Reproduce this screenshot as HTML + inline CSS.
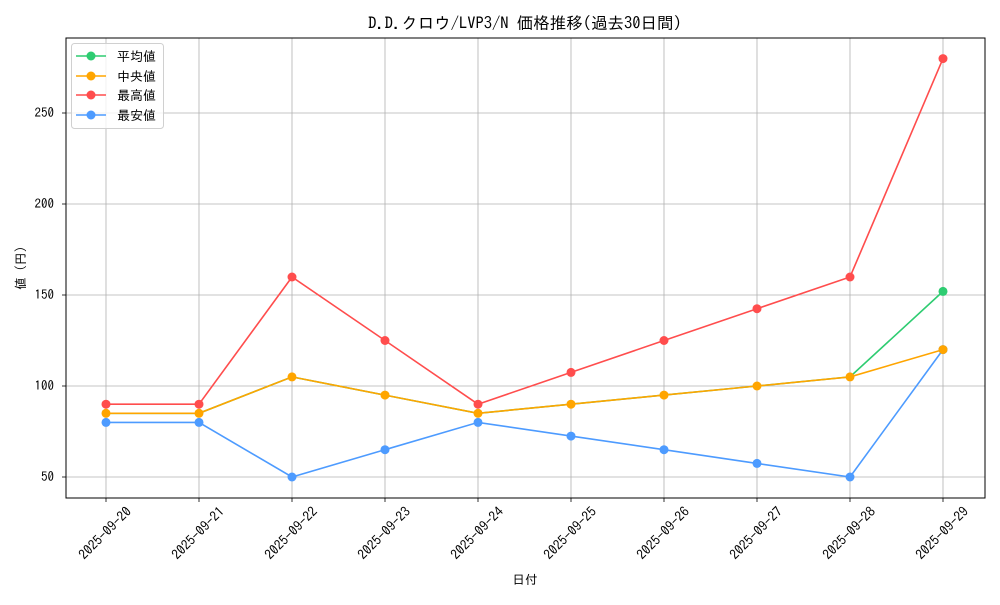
<!DOCTYPE html>
<html><head><meta charset="utf-8"><style>
body{margin:0;background:#fff}
text{font-family:"IPAGothic","Liberation Sans","Noto Sans CJK JP",sans-serif;fill:#000}
</style></head><body>
<svg width="1000" height="600" xmlns="http://www.w3.org/2000/svg">
<rect width="1000" height="600" fill="#fff"/>
<text x="525" y="29" font-size="16.5" text-anchor="middle">D.D.クロウ/LVP3/N 価格推移(過去30日間)</text>
<g stroke="#b0b0b0" stroke-width="0.8">
<line x1="106" y1="38" x2="106" y2="498"/><line x1="199" y1="38" x2="199" y2="498"/><line x1="292" y1="38" x2="292" y2="498"/><line x1="385" y1="38" x2="385" y2="498"/><line x1="478" y1="38" x2="478" y2="498"/><line x1="571" y1="38" x2="571" y2="498"/><line x1="664" y1="38" x2="664" y2="498"/><line x1="757" y1="38" x2="757" y2="498"/><line x1="850" y1="38" x2="850" y2="498"/><line x1="943" y1="38" x2="943" y2="498"/>
<line x1="66" y1="477" x2="985" y2="477"/><line x1="66" y1="386" x2="985" y2="386"/><line x1="66" y1="295" x2="985" y2="295"/><line x1="66" y1="204" x2="985" y2="204"/><line x1="66" y1="113" x2="985" y2="113"/>
</g>
<rect x="66" y="38" width="919" height="460" fill="none" stroke="#000" stroke-width="1"/>
<g stroke="#000" stroke-width="0.8">
<line x1="62" y1="477" x2="66" y2="477"/><line x1="62" y1="386" x2="66" y2="386"/><line x1="62" y1="295" x2="66" y2="295"/><line x1="62" y1="204" x2="66" y2="204"/><line x1="62" y1="113" x2="66" y2="113"/>
<line x1="106" y1="498" x2="106" y2="502"/><line x1="199" y1="498" x2="199" y2="502"/><line x1="292" y1="498" x2="292" y2="502"/><line x1="385" y1="498" x2="385" y2="502"/><line x1="478" y1="498" x2="478" y2="502"/><line x1="571" y1="498" x2="571" y2="502"/><line x1="664" y1="498" x2="664" y2="502"/><line x1="757" y1="498" x2="757" y2="502"/><line x1="850" y1="498" x2="850" y2="502"/><line x1="943" y1="498" x2="943" y2="502"/>
</g>
<g font-size="13" text-anchor="end">
<text x="54" y="481">50</text><text x="54" y="390">100</text><text x="54" y="299">150</text><text x="54" y="208">200</text><text x="54" y="117">250</text>
</g>
<g font-size="13.5" text-anchor="middle">
<text transform="translate(105,533) rotate(-45)" dy="0.35em">2025-09-20</text>
<text transform="translate(198,533) rotate(-45)" dy="0.35em">2025-09-21</text>
<text transform="translate(291,533) rotate(-45)" dy="0.35em">2025-09-22</text>
<text transform="translate(384,533) rotate(-45)" dy="0.35em">2025-09-23</text>
<text transform="translate(477,533) rotate(-45)" dy="0.35em">2025-09-24</text>
<text transform="translate(570,533) rotate(-45)" dy="0.35em">2025-09-25</text>
<text transform="translate(663,533) rotate(-45)" dy="0.35em">2025-09-26</text>
<text transform="translate(756,533) rotate(-45)" dy="0.35em">2025-09-27</text>
<text transform="translate(849,533) rotate(-45)" dy="0.35em">2025-09-28</text>
<text transform="translate(942,533) rotate(-45)" dy="0.35em">2025-09-29</text>
</g>
<text x="525" y="584" font-size="12.5" text-anchor="middle">日付</text>
<text transform="translate(25,268) rotate(-90)" font-size="12.5" text-anchor="middle">値 (円)</text>
<g fill="none" stroke-width="1.6">
<polyline stroke="#2ecc71" points="106,413.3 199,413.3 292,376.9 385,395.1 478,413.3 571,404.2 664,395.1 757,386 850,376.9 943,291.4"/>
<polyline stroke="#ffa500" points="106,413.3 199,413.3 292,376.9 385,395.1 478,413.3 571,404.2 664,395.1 757,386 850,376.9 943,349.6"/>
<polyline stroke="#ff4d4d" points="106,404.2 199,404.2 292,277 385,340.5 478,404.2 571,372.4 664,340.5 757,308.7 850,277 943,58.6"/>
<polyline stroke="#4d9bff" points="106,422.4 199,422.4 292,477 385,449.7 478,422.4 571,436.1 664,449.7 757,463.4 850,477 943,349.6"/>
</g>
<g fill="#2ecc71"><circle cx="943" cy="291.4" r="4.5"/></g>
<g fill="#ff4d4d"><circle cx="106" cy="404.2" r="4.5"/><circle cx="199" cy="404.2" r="4.5"/><circle cx="292" cy="277" r="4.5"/><circle cx="385" cy="340.5" r="4.5"/><circle cx="478" cy="404.2" r="4.5"/><circle cx="571" cy="372.4" r="4.5"/><circle cx="664" cy="340.5" r="4.5"/><circle cx="757" cy="308.7" r="4.5"/><circle cx="850" cy="277" r="4.5"/><circle cx="943" cy="58.6" r="4.5"/></g>
<g fill="#4d9bff"><circle cx="106" cy="422.4" r="4.5"/><circle cx="199" cy="422.4" r="4.5"/><circle cx="292" cy="477" r="4.5"/><circle cx="385" cy="449.7" r="4.5"/><circle cx="478" cy="422.4" r="4.5"/><circle cx="571" cy="436.1" r="4.5"/><circle cx="664" cy="449.7" r="4.5"/><circle cx="757" cy="463.4" r="4.5"/><circle cx="850" cy="477" r="4.5"/><circle cx="943" cy="349.6" r="4.5"/></g>
<g fill="#ffa500"><circle cx="106" cy="413.3" r="4.5"/><circle cx="199" cy="413.3" r="4.5"/><circle cx="292" cy="376.9" r="4.5"/><circle cx="385" cy="395.1" r="4.5"/><circle cx="478" cy="413.3" r="4.5"/><circle cx="571" cy="404.2" r="4.5"/><circle cx="664" cy="395.1" r="4.5"/><circle cx="757" cy="386" r="4.5"/><circle cx="850" cy="376.9" r="4.5"/><circle cx="943" cy="349.6" r="4.5"/></g>
<rect x="71.5" y="43.5" width="92" height="85" rx="3" fill="#fff" fill-opacity="0.8" stroke="#d0d0d0"/>
<g stroke-width="1.6">
<line x1="76" y1="56" x2="106" y2="56" stroke="#2ecc71"/><circle cx="91" cy="56" r="4.5" fill="#2ecc71"/>
<line x1="76" y1="76" x2="106" y2="76" stroke="#ffa500"/><circle cx="91" cy="76" r="4.5" fill="#ffa500"/>
<line x1="76" y1="95" x2="106" y2="95" stroke="#ff4d4d"/><circle cx="91" cy="95" r="4.5" fill="#ff4d4d"/>
<line x1="76" y1="115" x2="106" y2="115" stroke="#4d9bff"/><circle cx="91" cy="115" r="4.5" fill="#4d9bff"/>
</g>
<g font-size="13">
<text x="117" y="61">平均値</text><text x="117" y="81">中央値</text><text x="117" y="100">最高値</text><text x="117" y="120">最安値</text>
</g>
</svg>
</body></html>
